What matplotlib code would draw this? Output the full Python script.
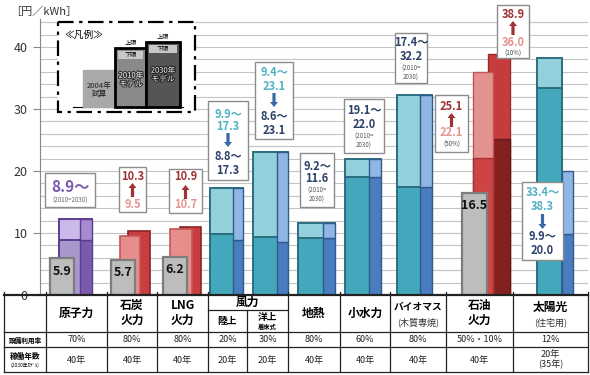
import numpy as np
import matplotlib.pyplot as plt
from matplotlib.patches import Rectangle, FancyArrow
import matplotlib.patheffects as pe

plt.rcParams['font.family'] = ['Noto Sans CJK JP', 'DejaVu Sans']

# ---------------- data ----------------
# nuclear + renewables: 2010 / 2030 model ranges (円/kWh)
range_names = ['原子力', '風力(陸上)', '風力(洋上)', '地熱', '小水力', 'バイオマス', '太陽光']
lo_2010 = [8.9, 9.9, 9.4, 9.2, 19.1, 17.4, 33.4]
hi_2010 = [12.2, 17.3, 23.1, 11.6, 22.0, 32.2, 38.3]
lo_2030 = [8.9, 8.8, 8.6, 9.2, 19.1, 17.4, 9.9]
hi_2030 = [12.2, 17.3, 23.1, 11.6, 22.0, 32.2, 20.0]

# coal / LNG
fossil_names = ['石炭火力', 'LNG火力']
fossil_2010 = [9.5, 10.7]
fossil_2030 = [10.3, 10.9]

# oil at 50% and 10% utilisation
oil_cases = ['50%', '10%']
oil_2010 = [22.1, 36.0]
oil_2030 = [25.1, 38.9]

# 2004 trial calculation
trial_names = ['原子力', '石炭火力', 'LNG火力', '石油火力']
trial_2004 = [5.9, 5.7, 6.2, 16.5]

# table
col_labels = ['原子力', '石炭\n火力', 'LNG\n火力', '陸上', '洋上', '地熱', '小水力',
              'バイオマス', '石油\n火力', '太陽光']
util_rate = ['70%', '80%', '80%', '20%', '30%', '80%', '60%', '80%', '50%・10%', '12%']
run_years = ['40年', '40年', '40年', '20年', '20年', '40年', '40年', '40年', '40年', '20年\n(35年)']

# ---------------- layout (pixels) ----------------
W, H = 590, 375
y0_px, px_per_unit = 295, 6.2
col_edges = [4, 46, 107, 157, 208, 247, 288, 340, 390, 446, 513, 588]

fig = plt.figure(figsize=(W / 100, H / 100), dpi=100)
ax = fig.add_axes([40 / W, (H - y0_px) / H, (588 - 40) / W, (y0_px - 19) / H])
ax.set_xlim(40, 588)
ax.set_ylim(0, (y0_px - 19) / px_per_unit)

ax.set_yticks([0, 10, 20, 30, 40])
ax.set_yticks(np.arange(0, 45, 2), minor=True)
ax.grid(axis='y', which='both', color='#c4c4c4', lw=0.8)
ax.set_axisbelow(True)
ax.set_xticks([])
for s in ['top', 'right', 'bottom']:
    ax.spines[s].set_visible(False)
ax.spines['left'].set_color('#888888')
ax.tick_params(axis='y', which='major', length=5, color='#888888', labelsize=9,
               labelcolor='#333333', pad=4)
ax.tick_params(axis='y', which='minor', length=0)

# range bars: outer (2010) x0,x1 and strip (2030) x0,x1
range_pos = [(59, 92, 80, 92), (210, 243, 233, 243), (253, 288, 277, 288),
             (298, 335, 323, 335), (345, 381, 369, 381), (397, 432, 420, 432),
             (537, 562, 562, 573)]
teal = dict(lo='#44a8bc', hi='#94cfdc', edge='#2b6e80')
blue = dict(lo='#4a7dbf', hi='#90b6e3', edge='#2f5a8c')
purple_o = dict(lo='#a797cd', hi='#cbb9ec', edge='#5c3d8e')
purple_s = dict(lo='#7a5aad', hi='#a88ad2', edge='#5c3d8e')

for i, name in enumerate(range_names):
    x0, x1, s0, s1 = range_pos[i]
    co, cs = (purple_o, purple_s) if name == '原子力' else (teal, blue)
    ax.bar(x0, lo_2010[i], width=x1 - x0, align='edge', color=co['lo'],
           edgecolor=co['edge'], lw=1.4, zorder=2)
    ax.bar(x0, hi_2010[i] - lo_2010[i], bottom=lo_2010[i], width=x1 - x0, align='edge',
           color=co['hi'], edgecolor=co['edge'], lw=1.4, zorder=2)
    ax.bar(s0, lo_2030[i], width=s1 - s0, align='edge', color=cs['lo'],
           edgecolor=cs['edge'], lw=1.0, zorder=3)
    ax.bar(s0, hi_2030[i] - lo_2030[i], bottom=lo_2030[i], width=s1 - s0, align='edge',
           color=cs['hi'], edgecolor=cs['edge'], lw=1.0, zorder=3)

# coal / LNG
fossil_pos = [((120, 140), (128, 150)), ((170, 192), (180, 201))]
for i in range(len(fossil_names)):
    (p0, p1), (d0, d1) = fossil_pos[i]
    ax.bar(d0, fossil_2030[i], width=d1 - d0, align='edge', color='#c63e3e',
           edgecolor='#8f2222', lw=1.2, zorder=2)
    ax.bar(p0, fossil_2010[i], width=p1 - p0, align='edge', color='#e58e8c',
           edgecolor='#c55555', lw=1.2, zorder=3)

# oil: left column 2010 (10% behind, 50% in front), right column 2030
ax.bar(488, oil_2030[1], width=22, align='edge', color='#c63c3c', edgecolor='#9a2a2a',
       lw=1.0, zorder=2)
ax.bar(488, oil_2030[0], width=22, align='edge', color='#842020', edgecolor='#6a1818',
       lw=1.0, zorder=2.5)
ax.bar(473, oil_2010[1], width=20, align='edge', color='#e49290', edgecolor='#c55555',
       lw=1.0, zorder=3)
ax.bar(473, oil_2010[0], width=20, align='edge', color='#cc4444', edgecolor='#a83333',
       lw=1.0, zorder=3.5)

# 2004 gray bars
trial_pos = [(50, 74), (111, 135), (163, 187), (462, 487)]
for i, v in enumerate(trial_2004):
    g0, g1 = trial_pos[i]
    ax.bar(g0, v, width=g1 - g0, align='edge', color='#bdbdbd', edgecolor='#7d7d7d',
           lw=1.6, zorder=4)
    ax.text((g0 + g1) / 2, v - 2.1, f'{v:.1f}', ha='center', va='center', fontsize=9,
            fontweight='bold', color='#111111', zorder=5)

# ---------------- overlay in pixel coords ----------------
ov = fig.add_axes([0, 0, 1, 1], zorder=5)
ov.set_xlim(0, W)
ov.set_ylim(H, 0)
ov.axis('off')

ov.text(10, 12, '［円／kWh］', fontsize=8, color='#333333', va='center', ha='left')

c_teal, c_navy, c_arrow_b = '#4fb2c2', '#2c4068', '#3a68a6'
c_dred, c_pink = '#9e3236', '#e39592'


def box(x0, y0, x1, y1, lines, arrow=None):
    ov.add_patch(Rectangle((x0, y0), x1 - x0, y1 - y0, facecolor='white',
                           edgecolor='#8c8c8c', lw=1.0, zorder=6))
    xc = (x0 + x1) / 2
    for txt, y, col, fs, bold in lines:
        ov.text(xc, y, txt, ha='center', va='center', fontsize=fs, color=col,
                fontweight='bold' if bold else 'normal', zorder=7)
    if arrow:
        ya, yb, col = arrow
        ov.add_patch(FancyArrow(xc, ya, 0, yb - ya, width=3.2, head_width=8,
                                head_length=5, length_includes_head=True,
                                color=col, lw=0, zorder=7))


box(45, 173, 95, 207, [('8.9～', 187, '#7a5aad', 11, True),
                       ('(2010=2030)', 201, '#666666', 4.5, False)])
box(119, 167, 146, 212, [('10.3', 176, c_dred, 8, True), ('9.5', 204, c_pink, 8, True)],
    (197, 183, c_dred))
box(169, 169, 202, 213, [('10.9', 177, c_dred, 8, True), ('10.7', 205, c_pink, 8, True)],
    (199, 185, c_dred))
box(208, 101, 248, 180, [('9.9～', 114, c_teal, 8, True), ('17.3', 127, c_teal, 8, True),
                         ('8.8～', 157, c_navy, 8, True), ('17.3', 171, c_navy, 8, True)],
    (133, 147, c_arrow_b))
box(255, 62, 293, 139, [('9.4～', 73, c_teal, 8, True), ('23.1', 87, c_teal, 8, True),
                        ('8.6～', 116, c_navy, 8, True), ('23.1', 130, c_navy, 8, True)],
    (93, 107, c_arrow_b))
box(300, 153, 334, 207, [('9.2～', 166, c_navy, 8, True), ('11.6', 179, c_navy, 8, True),
                         ('(2010=', 191, '#555555', 4.5, False),
                         ('2030)', 200, '#555555', 4.5, False)])
box(344, 99, 384, 153, [('19.1～', 111, c_navy, 8, True), ('22.0', 125, c_navy, 8, True),
                        ('(2010=', 137, '#555555', 4.5, False),
                        ('2030)', 146, '#555555', 4.5, False)])
box(395, 33, 427, 83, [('17.4～', 43, c_navy, 8, True), ('32.2', 57, c_navy, 8, True),
                       ('(2010=', 69, '#555555', 4.5, False),
                       ('2030)', 78, '#555555', 4.5, False)])
box(435, 95, 468, 152, [('25.1', 107, c_dred, 8, True), ('22.1', 133, c_pink, 8, True),
                        ('(50%)', 145, '#444444', 4.5, False)],
    (127, 113, c_dred))
box(497, 5, 529, 58, [('38.9', 15, c_dred, 8, True), ('36.0', 43, c_pink, 8, True),
                      ('(10%)', 54, '#444444', 4.5, False)],
    (35, 21, c_dred))
box(522, 182, 563, 260, [('33.4～', 193, c_teal, 8, True), ('38.3', 207, c_teal, 8, True),
                         ('9.9～', 236, c_navy, 8, True), ('20.0', 250, c_navy, 8, True)],
    (214, 229, c_arrow_b))

# ---------------- legend ----------------
ov.add_patch(Rectangle((58, 22), 137, 90, facecolor='white', edgecolor='black', lw=1.6,
                       ls=(0, (7, 2.5, 1.5, 2.5)), zorder=6))
ov.text(64, 35, '≪凡例≫', fontsize=7, va='center', ha='left', zorder=7)
ov.plot([73, 183], [107, 107], color='black', lw=0.8, zorder=7)
ov.add_patch(Rectangle((83, 70), 32, 37, facecolor='#a9a9a9', edgecolor='#a9a9a9', zorder=7))
ov.text(99, 90, '2004年\n試算', ha='center', va='center', fontsize=5.5, linespacing=1.1,
        color='#222222', zorder=8)
for lx0, lx1, ltop, fc in [(115, 146, 48, '#8a8a8a'), (146, 180, 42, '#555555')]:
    ov.add_patch(Rectangle((lx0, ltop), lx1 - lx0, 107 - ltop, facecolor=fc,
                           edgecolor='black', lw=2, zorder=7))
    ov.add_patch(Rectangle((lx0 + 3, ltop + 3), lx1 - lx0 - 6, 8, facecolor='#c8c8c8',
                           edgecolor='none', zorder=8))
    ov.text((lx0 + lx1) / 2, ltop + 7, '下限', ha='center', va='center', fontsize=4.5,
            zorder=9)
    ov.text((lx0 + lx1) / 2, ltop - 5, '上限', ha='center', va='center', fontsize=4.5,
            zorder=9)
ov.text(131, 80, '2010年\nモデル', ha='center', va='center', fontsize=5.5, linespacing=1.1,
        color='white', zorder=9, path_effects=[pe.withStroke(linewidth=1.5, foreground='#333333')])
ov.text(163, 75, '2030年\nモデル', ha='center', va='center', fontsize=5.5, linespacing=1.1,
        color='white', zorder=9, path_effects=[pe.withStroke(linewidth=1.5, foreground='#222222')])

# ---------------- table ----------------
lc = '#222222'
ov.plot([4, 588], [295, 295], color=lc, lw=1.6, zorder=4)
for yy in [332, 347, 372]:
    ov.plot([4, 588], [yy, yy], color=lc, lw=0.9)
ov.plot([208, 288], [310, 310], color=lc, lw=0.9)
for xe in col_edges:
    ov.plot([xe, xe], [310 if xe == 247 else 292, 372], color=lc, lw=0.9)

ov.text(248, 302, '風力', ha='center', va='center', fontsize=8.5, fontweight='bold')
for j, lab in enumerate(col_labels):
    xc = (col_edges[j + 1] + col_edges[j + 2]) / 2
    if lab in ('陸上', '洋上'):
        if lab == '陸上':
            ov.text(xc, 321, lab, ha='center', va='center', fontsize=7, fontweight='bold')
        else:
            ov.text(xc, 317, lab, ha='center', va='center', fontsize=7, fontweight='bold')
            ov.text(xc, 327, '着床式', ha='center', va='center', fontsize=4.5, fontweight='bold')
    elif lab == 'バイオマス':
        ov.text(xc, 307, lab, ha='center', va='center', fontsize=7, fontweight='bold')
        ov.text(xc, 322, '(木質専焼)', ha='center', va='center', fontsize=6.5, color='#333333')
    elif lab == '太陽光':
        ov.text(xc, 307, lab, ha='center', va='center', fontsize=8.5, fontweight='bold')
        ov.text(xc, 322, '(住宅用)', ha='center', va='center', fontsize=6.5, color='#333333')
    else:
        ov.text(xc, 313, lab, ha='center', va='center', fontsize=8.5, fontweight='bold',
                linespacing=1.15)
    ov.text(xc, 340, util_rate[j], ha='center', va='center', fontsize=6.5, color='#222222')
    ov.text(xc, 360, run_years[j], ha='center', va='center', fontsize=6.5, color='#222222',
            linespacing=1.1)

ov.text(25, 340, '設備利用率', ha='center', va='center', fontsize=4.8, fontweight='bold')
ov.text(25, 356, '稼働年数', ha='center', va='center', fontsize=5.5, fontweight='bold')
ov.text(25, 365, '(2030年ﾓﾃﾞﾙ)', ha='center', va='center', fontsize=3.5)

fig.savefig('out.png', dpi=100)
